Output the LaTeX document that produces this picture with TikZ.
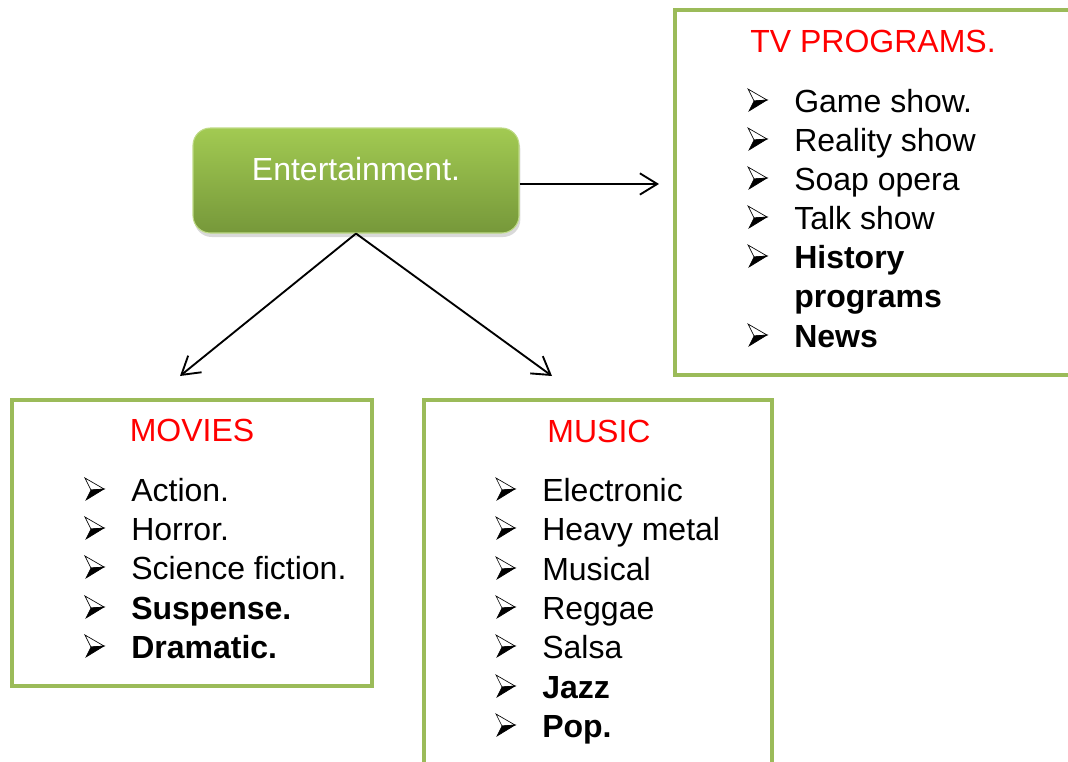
\documentclass[tikz,border=0pt]{standalone}
\usepackage{fontspec}
\setmainfont{Liberation Sans}
\usetikzlibrary{positioning}
\usetikzlibrary{arrows.meta}
\usetikzlibrary{shadows}
\usetikzlibrary{calc}
\definecolor{boxgreen}{HTML}{9BBB59}
\definecolor{topgreen}{HTML}{A2CA52}
\definecolor{botgreen}{HTML}{76983A}
\definecolor{titlered}{HTML}{FF0000}

\begin{document}
\begin{tikzpicture}[x=0.75pt,y=-0.75pt,
		card/.style={draw=boxgreen,line width=3pt,rectangle,anchor=north west,inner sep=0pt,outer sep=0pt},
		entbox/.style={rectangle,rounded corners=13pt,top color=topgreen,bottom color=botgreen,draw=topgreen!70!white,line width=0.8pt,minimum width=244.5pt,minimum height=78.75pt,drop shadow={opacity=0.3,shadow xshift=1pt,shadow yshift=-3pt}},
		title/.style={anchor=base,text=titlered,font=\fontsize{24}{28}\selectfont,inner sep=0pt},
		item/.style={anchor=base west,font=\fontsize{24}{28}\selectfont,inner sep=0pt},
		bul/.pic={
			\filldraw[fill=white,line width=0.5pt,line join=miter] (0,-23) -- (19,-12) -- (6,-11) -- cycle;
			\filldraw[fill=black,line width=0.5pt,line join=miter] (6,-11) -- (19,-12) -- (1,-1) -- cycle;
		},
		conn/.style={draw,line width=1.4pt,-{Straight Barb[length=13pt,width=16pt]}}]
		\useasboundingbox (0,0) rectangle (1068,761);
		\clip (0,0) rectangle (1068,761);
		% boxes
		\node[entbox] (ent) at (356,180.5) {};
		\node[anchor=base,text=white,font=\fontsize{24}{28}\selectfont,inner sep=0pt] (entlbl) at (356,180) {Entertainment.};
		\node[card,minimum width=318.75pt,minimum height=273.75pt] (tv) at (675,10) {};
		\node[card,minimum width=270pt,minimum height=214.5pt] (movies) at (12,400) {};
		\node[card,minimum width=261pt,minimum height=300pt] (music) at (424,400) {};
		% titles
		\node[title] (tvtitle) at (873,52) {TV PROGRAMS.};
		\node[title] (movtitle) at (192,441) {MOVIES};
		\node[title] (mustitle) at (599,442) {MUSIC};
		% lists
		\foreach \yy/\txt [count=\i] in {112/Game show., 151/Reality show, 190/Soap opera, 229/Talk show, 268/\textbf{History}, 347/\textbf{News}}{
			\pic (tvb-\i) at (748,\yy) {bul};
			\node[item] (tv-\i) at (794,\yy) {\txt};
		}
		\node[item] (tv-more) at (794,307) {\textbf{programs}};
		\foreach \yy/\txt [count=\i] in {501/Action., 540/Horror., 579/Science fiction., 619/\textbf{Suspense.}, 658/\textbf{Dramatic.}}{
			\pic (movb-\i) at (85,\yy) {bul};
			\node[item] (mov-\i) at (131,\yy) {\txt};
		}
		\foreach \yy/\txt [count=\i] in {501/Electronic, 540/Heavy metal, 580/Musical, 619/Reggae, 658/Salsa, 698/\textbf{Jazz}, 737/\textbf{Pop.}}{
			\pic (musb-\i) at (496,\yy) {bul};
			\node[item] (mus-\i) at (542,\yy) {\txt};
		}
		% arrows
		\coordinate (movtip) at (180,376);
		\coordinate (mustip) at (552,376);
		\draw[conn] ([yshift=-2.6pt]ent.east) -- ([xshift=-12pt,yshift=-2.6pt]ent.east -| tv.west);
		\draw[conn] (ent.south) -- (movtip);
		\draw[conn] (ent.south) -- (mustip);
	\end{tikzpicture}
\end{document}
